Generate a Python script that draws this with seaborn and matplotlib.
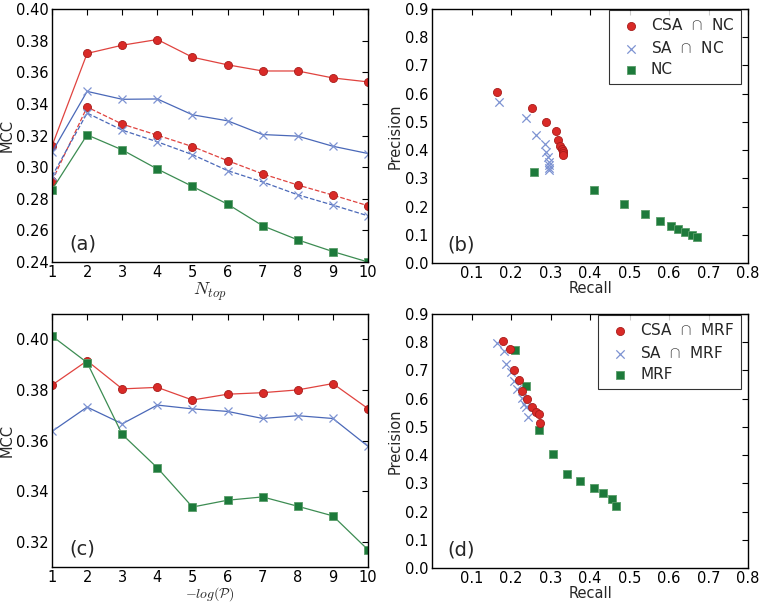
import matplotlib
matplotlib.use("Agg")
import matplotlib.pyplot as plt
import seaborn as sns
import numpy as np

# ---------------- data ----------------
ntop = [1, 2, 3, 4, 5, 6, 7, 8, 9, 10]
a_csa_solid = [0.3134, 0.3719, 0.3771, 0.3807, 0.3695, 0.3647, 0.3608, 0.3608, 0.3564, 0.3539]
a_sa_solid = [0.3094, 0.3479, 0.3429, 0.3431, 0.3331, 0.3293, 0.3206, 0.3196, 0.3132, 0.3086]
a_csa_dash = [0.2912, 0.3380, 0.3272, 0.3202, 0.3130, 0.3041, 0.2957, 0.2887, 0.2823, 0.2756]
a_sa_dash = [0.2942, 0.3342, 0.3234, 0.3160, 0.3079, 0.2978, 0.2906, 0.2825, 0.2760, 0.2692]
a_nc = [0.2857, 0.3204, 0.3109, 0.2988, 0.2878, 0.2766, 0.2629, 0.2540, 0.2466, 0.2400]

b_csa_recall = [0.164, 0.254, 0.289, 0.315, 0.319, 0.325, 0.329, 0.331, 0.332, 0.332]
b_csa_prec = [0.605, 0.549, 0.499, 0.468, 0.435, 0.416, 0.404, 0.397, 0.389, 0.382]
b_sa_recall = [0.170, 0.239, 0.264, 0.285, 0.289, 0.293, 0.295, 0.295, 0.296, 0.297]
b_sa_prec = [0.571, 0.513, 0.454, 0.422, 0.394, 0.375, 0.358, 0.347, 0.338, 0.330]
b_nc_recall = [0.258, 0.410, 0.486, 0.538, 0.577, 0.605, 0.622, 0.641, 0.657, 0.672]
b_nc_prec = [0.324, 0.259, 0.208, 0.174, 0.150, 0.132, 0.119, 0.109, 0.099, 0.092]

logp = [1, 2, 3, 4, 5, 6, 7, 8, 9, 10]
c_csa = [0.3819, 0.3915, 0.3804, 0.3810, 0.3760, 0.3783, 0.3789, 0.3800, 0.3825, 0.3726]
c_sa = [0.3636, 0.3732, 0.3666, 0.3740, 0.3725, 0.3715, 0.3687, 0.3698, 0.3687, 0.3577]
c_mrf = [0.4013, 0.3908, 0.3624, 0.3492, 0.3337, 0.3364, 0.3377, 0.3340, 0.3302, 0.3168]

d_csa_recall = [0.181, 0.198, 0.207, 0.219, 0.227, 0.241, 0.254, 0.263, 0.271, 0.273]
d_csa_prec = [0.806, 0.777, 0.700, 0.667, 0.626, 0.598, 0.572, 0.553, 0.545, 0.515]
d_sa_recall = [0.164, 0.182, 0.187, 0.200, 0.208, 0.216, 0.227, 0.233, 0.238, 0.242]
d_sa_prec = [0.796, 0.770, 0.722, 0.696, 0.664, 0.633, 0.601, 0.581, 0.572, 0.534]
d_mrf_recall = [0.210, 0.238, 0.270, 0.307, 0.341, 0.375, 0.409, 0.433, 0.456, 0.467]
d_mrf_prec = [0.773, 0.645, 0.490, 0.403, 0.333, 0.308, 0.285, 0.265, 0.245, 0.221]

mcc_ticks_a = [0.24, 0.26, 0.28, 0.30, 0.32, 0.34, 0.36, 0.38, 0.40]
mcc_ticks_c = [0.32, 0.34, 0.36, 0.38, 0.40]
recall_ticks = [0.1, 0.2, 0.3, 0.4, 0.5, 0.6, 0.7, 0.8]
prec_ticks = [0.0, 0.1, 0.2, 0.3, 0.4, 0.5, 0.6, 0.7, 0.8, 0.9]

# ---------------- style ----------------
sns.set_style("white")
plt.rcParams['font.family'] = ['DejaVu Sans']
plt.rcParams['mathtext.fontset'] = 'cm'

RED = '#d92a27'
RED_EDGE = '#a81c1a'
RED_LINE = '#e0433f'
BLUE_LINE = '#4a68b8'
BLUE_X = '#7d93d2'
GREEN = '#1d7a3b'
GREEN_EDGE = '#5a9e6a'
GREEN_LINE = '#3c8c52'

TICK_FS = 10.5
LABEL_FS = 10.5

fig = plt.figure(figsize=(7.64, 6.04), dpi=100)
W, H = 764.0, 604.0

def make_ax(x0, y0, x1, y1):
    return fig.add_axes([x0 / W, 1 - y1 / H, (x1 - x0) / W, (y1 - y0) / H])

ax_a = make_ax(52, 9, 368, 262)
ax_b = make_ax(432, 9, 748, 263)
ax_c = make_ax(52, 314, 368, 567)
ax_d = make_ax(432, 314, 748, 568)

def style(ax):
    for s in ax.spines.values():
        s.set_color('black')
        s.set_linewidth(1.0)
        s.set_visible(True)
    ax.tick_params(direction='in', length=4, width=0.8, top=True, right=True,
                   labelsize=TICK_FS, colors='black', pad=2.5)
    ax.grid(False)

MS = 5.8

# ---- panel (a)
line_kw = dict(linewidth=0.9, markersize=MS, ax=ax_a)
sns.lineplot(x=ntop, y=a_csa_solid, color=RED_LINE, marker='o', markerfacecolor=RED,
             markeredgecolor=RED_EDGE, markeredgewidth=0.6, **line_kw)
sns.lineplot(x=ntop, y=a_sa_solid, color=BLUE_LINE, marker='x', markeredgecolor=BLUE_X,
             markeredgewidth=0.9, **line_kw)
sns.lineplot(x=ntop, y=a_csa_dash, color=RED_LINE, marker='o', markerfacecolor=RED,
             markeredgecolor=RED_EDGE, markeredgewidth=0.6, linestyle='--', **line_kw)
sns.lineplot(x=ntop, y=a_sa_dash, color=BLUE_LINE, marker='x', markeredgecolor=BLUE_X,
             markeredgewidth=0.9, linestyle='--', **line_kw)
sns.lineplot(x=ntop, y=a_nc, color=GREEN_LINE, marker='s', markerfacecolor=GREEN,
             markeredgecolor=GREEN_EDGE, markeredgewidth=0.6, **line_kw)
ax_a.set_xlim(1, 10)
ax_a.set_ylim(0.24, 0.40)
ax_a.set_xticks(ntop)
ax_a.set_yticks(mcc_ticks_a)
ax_a.set_yticklabels([f"{t:.2f}" for t in mcc_ticks_a])
ax_a.set_xlabel(r"$N_{top}$", fontsize=13, labelpad=0)
ax_a.set_ylabel("MCC", fontsize=LABEL_FS, labelpad=1)
ax_a.text(0.055, 0.05, "(a)", transform=ax_a.transAxes, fontsize=14, va='baseline')
style(ax_a)

# ---- panel (c)
line_kw = dict(linewidth=0.9, markersize=MS, ax=ax_c)
sns.lineplot(x=logp, y=c_csa, color=RED_LINE, marker='o', markerfacecolor=RED,
             markeredgecolor=RED_EDGE, markeredgewidth=0.6, **line_kw)
sns.lineplot(x=logp, y=c_sa, color=BLUE_LINE, marker='x', markeredgecolor=BLUE_X,
             markeredgewidth=0.9, **line_kw)
sns.lineplot(x=logp, y=c_mrf, color=GREEN_LINE, marker='s', markerfacecolor=GREEN,
             markeredgecolor=GREEN_EDGE, markeredgewidth=0.6, **line_kw)
ax_c.set_xlim(1, 10)
ax_c.set_ylim(0.31, 0.41)
ax_c.set_xticks(logp)
ax_c.set_yticks(mcc_ticks_c)
ax_c.set_yticklabels([f"{t:.2f}" for t in mcc_ticks_c])
ax_c.set_xlabel(r"$-log(\mathcal{P})$", fontsize=10, labelpad=0)
ax_c.set_ylabel("MCC", fontsize=LABEL_FS, labelpad=1)
ax_c.text(0.055, 0.05, "(c)", transform=ax_c.transAxes, fontsize=14, va='baseline')
style(ax_c)

# ---- scatter panels
def scatter_panel(ax, r1, p1, r2, p2, r3, p3, names, tag):
    sns.scatterplot(x=r1, y=p1, ax=ax, marker='o', color=RED, edgecolor=RED_EDGE,
                    linewidth=0.6, s=34, label=names[0], zorder=3)
    sns.scatterplot(x=r2, y=p2, ax=ax, marker='x', color=BLUE_X,
                    linewidth=0.9, s=36, label=names[1], zorder=2)
    sns.scatterplot(x=r3, y=p3, ax=ax, marker='s', color=GREEN, edgecolor=GREEN_EDGE,
                    linewidth=0.6, s=32, label=names[2], zorder=2)
    ax.set_xlim(0, 0.8)
    ax.set_ylim(0, 0.9)
    ax.set_xticks(recall_ticks)
    ax.set_xticklabels([f"{t:.1f}" for t in recall_ticks])
    ax.set_yticks(prec_ticks)
    ax.set_yticklabels([f"{t:.1f}" for t in prec_ticks])
    ax.set_xlabel("Recall", fontsize=LABEL_FS, labelpad=0)
    ax.set_ylabel("Precision", fontsize=LABEL_FS, labelpad=2)
    ax.text(0.05, 0.05, tag, transform=ax.transAxes, fontsize=14, va='baseline')
    leg = ax.legend(loc='upper right', bbox_to_anchor=(0.978, 0.997), borderaxespad=0,
                    scatterpoints=1, fontsize=11, fancybox=False, frameon=True,
                    handletextpad=0.3, labelspacing=0.45, borderpad=0.45)
    leg.get_frame().set_edgecolor('black')
    leg.get_frame().set_linewidth(0.8)
    style(ax)

scatter_panel(ax_b, b_csa_recall, b_csa_prec, b_sa_recall, b_sa_prec, b_nc_recall, b_nc_prec,
              [r"CSA  $\cap$  NC", r"SA  $\cap$  NC", "NC"], "(b)")
scatter_panel(ax_d, d_csa_recall, d_csa_prec, d_sa_recall, d_sa_prec, d_mrf_recall, d_mrf_prec,
              [r"CSA  $\cap$  MRF", r"SA  $\cap$  MRF", "MRF"], "(d)")

fig.savefig("out.png", dpi=100)
